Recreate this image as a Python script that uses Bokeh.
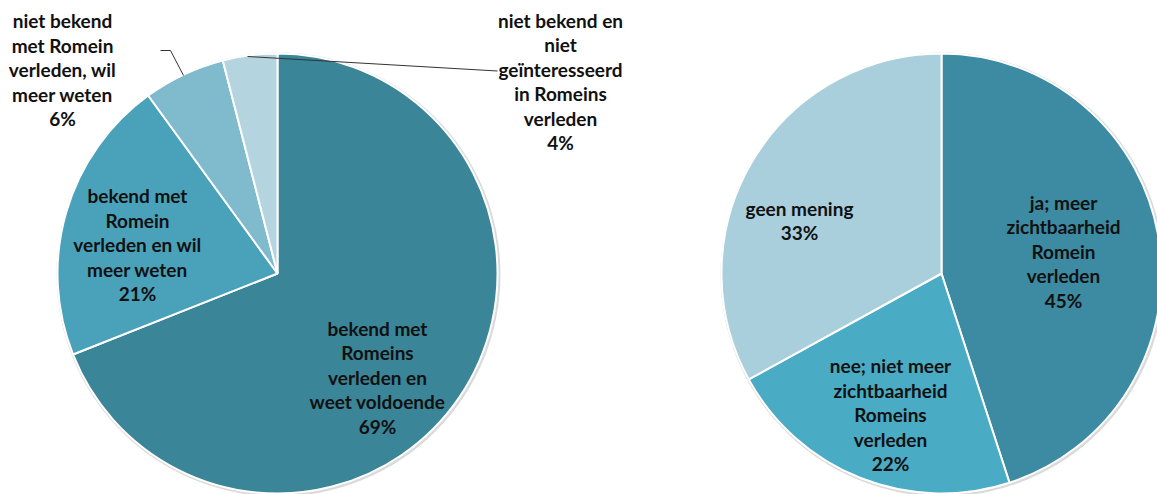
import math
from bokeh.plotting import figure
from bokeh.models import Range1d
from bokeh.core.properties import value
from bokeh.embed import file_html
from bokeh.resources import INLINE

# ---- data ----
left_labels = ["bekend met\nRomeins\nverleden en\nweet voldoende",
               "bekend met\nRomein\nverleden en wil\nmeer weten",
               "niet bekend\nmet Romein\nverleden, wil\nmeer weten",
               "niet bekend en\nniet\ngeïnteresseerd\nin Romeins\nverleden"]
left_values = [69, 21, 6, 4]
left_colors = ["#3A8598", "#4AA2BA", "#7FBACD", "#B4D4DF"]

right_labels = ["ja; meer\nzichtbaarheid\nRomein\nverleden",
                "nee; niet meer\nzichtbaarheid\nRomeins\nverleden",
                "geen mening"]
right_values = [45, 22, 33]
right_colors = ["#3C8BA2", "#4AABC4", "#A9CEDC"]

# ---- layout (screen pixel positions) ----
W, H = 1157, 494
def Y(sy):  # screen y -> data y
    return H - sy

left_center = (277, 273)
right_center = (941, 273)
R = 220
left_label_pos = [(377, 376.5), (137, 244), (62, 69), (560, 81)]
right_label_pos = [(1063, 250.5), (890, 414), (799, 220)]
LINE = 24.5

p = figure(width=W, height=H, output_backend="svg", toolbar_location=None,
           x_range=Range1d(0, W), y_range=Range1d(0, H),
           min_border=0, outline_line_color=None)
p.axis.visible = False
p.grid.visible = False
p.background_fill_color = "white"
p.border_fill_color = "white"

def draw_pie(center, values, colors):
    total = float(sum(values))
    cx, cy = center
    # soft shadow
    p.circle(x=[cx + 1], y=[Y(cy) - 1], radius=R + 2, radius_units="screen",
             fill_color="#DADADA", line_color=None)
    cum = 0.0
    starts, ends = [], []
    for v in values:
        starts.append(math.pi / 2 - 2 * math.pi * cum / total)
        cum += v
        ends.append(math.pi / 2 - 2 * math.pi * cum / total)
    p.wedge(x=[cx] * len(values), y=[Y(cy)] * len(values), radius=R,
            radius_units="screen", start_angle=starts, end_angle=ends,
            direction="clock", fill_color=colors, line_color="white",
            line_width=2)

def draw_labels(labels, values, positions):
    xs, ys, ts = [], [], []
    for lab, v, (lx, ly) in zip(labels, values, positions):
        lines = lab.split("\n") + [f"{v}%"]
        n = len(lines)
        for i, t in enumerate(lines):
            xs.append(lx)
            ys.append(Y(ly + (i - (n - 1) / 2) * LINE))
            ts.append(t)
    p.text(x=xs, y=ys, text=ts, text_align="center", text_baseline="middle",
           text_font=value("Lato"), text_font_style="bold",
           text_font_size="19px", text_color="#111111")

draw_pie(left_center, left_values, left_colors)
draw_pie(right_center, right_values, right_colors)

# leader lines
p.line(x=[160, 170, 183], y=[Y(50), Y(50), Y(75)], line_color="#333333", line_width=1)
p.line(x=[247, 497], y=[Y(56), Y(70.5)], line_color="#333333", line_width=1)

draw_labels(left_labels, left_values, left_label_pos)
draw_labels(right_labels, right_values, right_label_pos)

open("out.html", "w").write(file_html(p, INLINE))
